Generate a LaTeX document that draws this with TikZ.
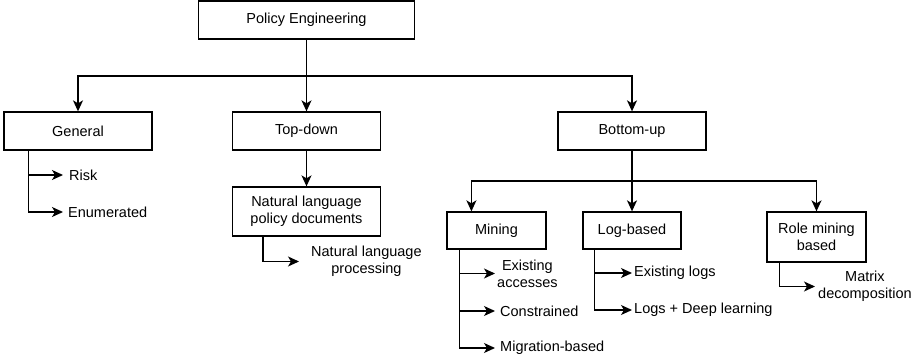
\documentclass[tikz,border=0pt]{standalone}
\usepackage{fontspec}
\setmainfont{Liberation Sans}
\usetikzlibrary{arrows.meta,calc}
\begin{document}
\begin{tikzpicture}[x=1pt,y=-1pt,
  font=\fontsize{14.5}{17}\selectfont,
  box/.style={draw, line width=1.3pt, minimum width=148pt, minimum height=38pt,
    align=center, inner sep=0pt},
  leaf/.style={anchor=west, align=center, inner ysep=0pt, inner xsep=4pt},
  wire/.style={line width=1.4pt},
  link/.style={wire, -{Stealth[length=11pt,width=10pt,inset=3pt]}}]
\useasboundingbox (0,0) rectangle (919,361);

% boxes
\node[box, minimum width=216pt] (pe) at (306.5,20) {Policy Engineering};
\node[box] (gen) at (78,131) {General};
\node[box] (td) at (306.5,131) {Top-down};
\node[box] (bu) at (632,131) {Bottom-up};
\node[box, minimum height=49pt] (nlpd) at (306.5,211.5) {Natural language\\policy documents};
\node[box, minimum width=99pt, minimum height=37pt] (mine) at (496.5,230.5) {Mining};
\node[box, minimum width=98pt, minimum height=37pt] (logb) at (632,230.5) {Log-based};
\node[box, minimum width=99pt, minimum height=50pt] (rmb) at (816.5,237) {Role mining\\based};

% leaves
\node[leaf, inner xsep=6pt] (risk) at (63,175) {Risk};
\node[leaf, inner xsep=5pt] (enum) at (63,212) {Enumerated};
\node[leaf, inner xsep=12pt] (nlp) at (299,261.5) {Natural language\\processing};
\node[leaf, inner xsep=2pt] (exa) at (495,273.5) {Existing\\accesses};
\node[leaf, inner xsep=5pt] (con) at (495,311) {Constrained};
\node[leaf, inner xsep=5pt] (mig) at (495,348) {Migration-based};
\node[leaf, inner xsep=2pt] (exl) at (632,273) {Existing logs};
\node[leaf, inner xsep=2pt] (ldl) at (632,310) {Logs + Deep learning};
\node[leaf, inner xsep=3pt] (mat) at (815,286.5) {Matrix\\decomposition};

% top level
\coordinate (j1) at (306.5,76);
\draw[link] (pe.south) -- (td.north);
\draw[link] (j1) -| (gen.north);
\draw[link] (j1) -| (bu.north);

% bottom-up branches
\coordinate (j2) at (632,181);
\draw[link] (bu.south) -- (logb.north);
\draw[link] (j2) -| ($(mine.north west)!0.25!(mine.north east)$);
\draw[link] (j2) -| (rmb.north);

% general
\draw[link] ([xshift=25pt]gen.south west) |- (risk.west);
\draw[link] ([xshift=25pt]gen.south west) |- (enum.west);

% top-down
\draw[link] (td.south) -- (nlpd.north);
\draw[link] ([xshift=31pt]nlpd.south west) |- (nlp.west);

% mining
\draw[link] ([xshift=13pt]mine.south west) |- (exa.west);
\draw[link] ([xshift=13pt]mine.south west) |- (con.west);
\draw[link] ([xshift=13pt]mine.south west) |- (mig.west);

% log-based
\draw[link] ([xshift=12pt]logb.south west) |- (exl.west);
\draw[link] ([xshift=12pt]logb.south west) |- (ldl.west);

% role mining
\draw[link] ([xshift=13pt]rmb.south west) |- (mat.west);
\end{tikzpicture}
\end{document}
